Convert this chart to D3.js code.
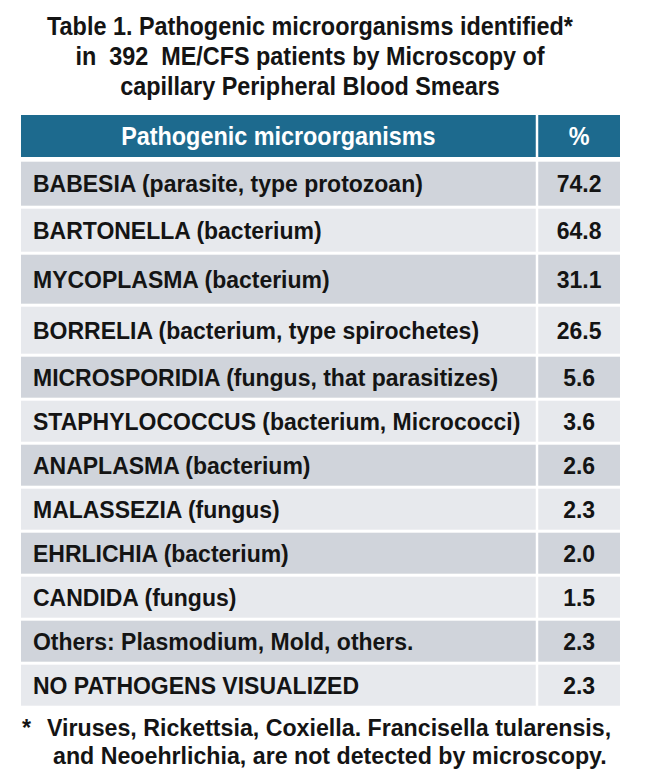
<!DOCTYPE html>
<html>
<head>
<meta charset="utf-8">
<script src="https://cdn.jsdelivr.net/npm/d3@7/dist/d3.min.js"></script>
<style>
  html, body { margin: 0; padding: 0; background: #ffffff; }
  svg { display: block; }
  text { font-family: "Liberation Sans", Arial, sans-serif; font-weight: bold; white-space: pre; }
</style>
</head>
<body>
<svg id="chart" width="646" height="776"></svg>
<script>
// ---- data ----
const titleLines = [
  "Table 1. Pathogenic microorganisms identified*",
  "in  392  ME/CFS patients by Microscopy of",
  "capillary Peripheral Blood Smears"
];
const headers = ["Pathogenic microorganisms", "%"];
const categories = [
  "BABESIA (parasite, type protozoan)",
  "BARTONELLA (bacterium)",
  "MYCOPLASMA (bacterium)",
  "BORRELIA (bacterium, type spirochetes)",
  "MICROSPORIDIA (fungus, that parasitizes)",
  "STAPHYLOCOCCUS (bacterium, Micrococci)",
  "ANAPLASMA (bacterium)",
  "MALASSEZIA (fungus)",
  "EHRLICHIA (bacterium)",
  "CANDIDA (fungus)",
  "Others: Plasmodium, Mold, others.",
  "NO PATHOGENS VISUALIZED"
];
const values = [74.2, 64.8, 31.1, 26.5, 5.6, 3.6, 2.6, 2.3, 2.0, 1.5, 2.3, 2.3];
const footnoteMark = "*";
const footnoteLines = [
  "Viruses, Rickettsia, Coxiella. Francisella tularensis,",
  "and Neoehrlichia, are not detected by microscopy."
];

// ---- layout (not data) ----
const layout = {
  left: 21, right: 620, divider: 537, gap: 2.5,
  headerTop: 115, headerBottom: 157, rowsTop: 161.7,
  rowPitch: [47, 46, 52, 50, 44, 44, 44, 44, 44, 44, 44, 44],
  titleSize: 23.4, rowSize: 23.0, noteSize: 23.2, stretchY: 1.07
};
const colors = {
  header: "#1d6a8e", dark: "#d0d4db", light: "#e7e9ed", text: "#141414"
};

const svg = d3.select("#chart");

// helper: place text at (x, baseline) with slight vertical stretch
function place(sel, fx, fy, size) {
  sel.attr("transform", (d, i) => `translate(${fx(d, i)},${fy(d, i)}) scale(1,${layout.stretchY})`)
     .attr("font-size", size);
}

// title
svg.append("g").selectAll("text")
  .data(titleLines).join("text")
  .attr("text-anchor", "middle")
  .attr("fill", colors.text)
  .text(d => d)
  .call(place, () => 310, (d, i) => 35 + i * 30, layout.titleSize);

// column scale
const colX = d3.scaleOrdinal().domain([0, 1]).range([layout.left, layout.divider + layout.gap / 2]);
const colW = [layout.divider - layout.gap / 2 - layout.left, layout.right - (layout.divider + layout.gap / 2)];

// header
const hg = svg.append("g");
hg.selectAll("rect").data(headers).join("rect")
  .attr("x", (d, i) => colX(i))
  .attr("y", layout.headerTop)
  .attr("width", (d, i) => colW[i])
  .attr("height", layout.headerBottom - layout.headerTop)
  .attr("fill", colors.header);
hg.selectAll("text").data(headers).join("text")
  .attr("text-anchor", "middle")
  .attr("fill", "#ffffff")
  .text(d => d)
  .call(place, (d, i) => colX(i) + colW[i] / 2, () => (layout.headerTop + layout.headerBottom) / 2 + 8.8, layout.titleSize);

// row positions via cumulative pitch
const tops = [];
let acc = layout.rowsTop;
layout.rowPitch.forEach(p => { tops.push(acc); acc += p; });
const y = d3.scaleOrdinal().domain(categories).range(tops);
const rowH = i => layout.rowPitch[i] - 3;

const rows = svg.append("g").selectAll("g")
  .data(categories.map((c, i) => ({ c, v: values[i], i })))
  .join("g")
  .attr("transform", d => `translate(0,${y(d.c)})`);

rows.selectAll("rect")
  .data(d => [0, 1].map(k => ({ k, i: d.i })))
  .join("rect")
  .attr("x", d => colX(d.k))
  .attr("y", 0)
  .attr("width", d => colW[d.k])
  .attr("height", d => rowH(d.i))
  .attr("fill", d => d.i % 2 === 0 ? colors.dark : colors.light);

rows.append("text")
  .attr("fill", colors.text)
  .text(d => d.c)
  .call(place, () => 33, d => rowH(d.i) / 2 + 8.5, layout.rowSize);

rows.append("text")
  .attr("text-anchor", "middle")
  .attr("fill", colors.text)
  .text(d => d3.format(".1f")(d.v))
  .call(place, () => colX(1) + colW[1] / 2, d => rowH(d.i) / 2 + 8.5, layout.rowSize);

// footnote
svg.append("text")
  .datum(footnoteMark)
  .attr("fill", colors.text)
  .text(d => d)
  .call(place, () => 22, () => 736, layout.noteSize);
svg.append("g").selectAll("text")
  .data(footnoteLines).join("text")
  .attr("fill", colors.text)
  .text(d => d)
  .call(place, (d, i) => i === 0 ? 47 : 53, (d, i) => 736 + i * 27.5, layout.noteSize);
</script>
</body>
</html>
